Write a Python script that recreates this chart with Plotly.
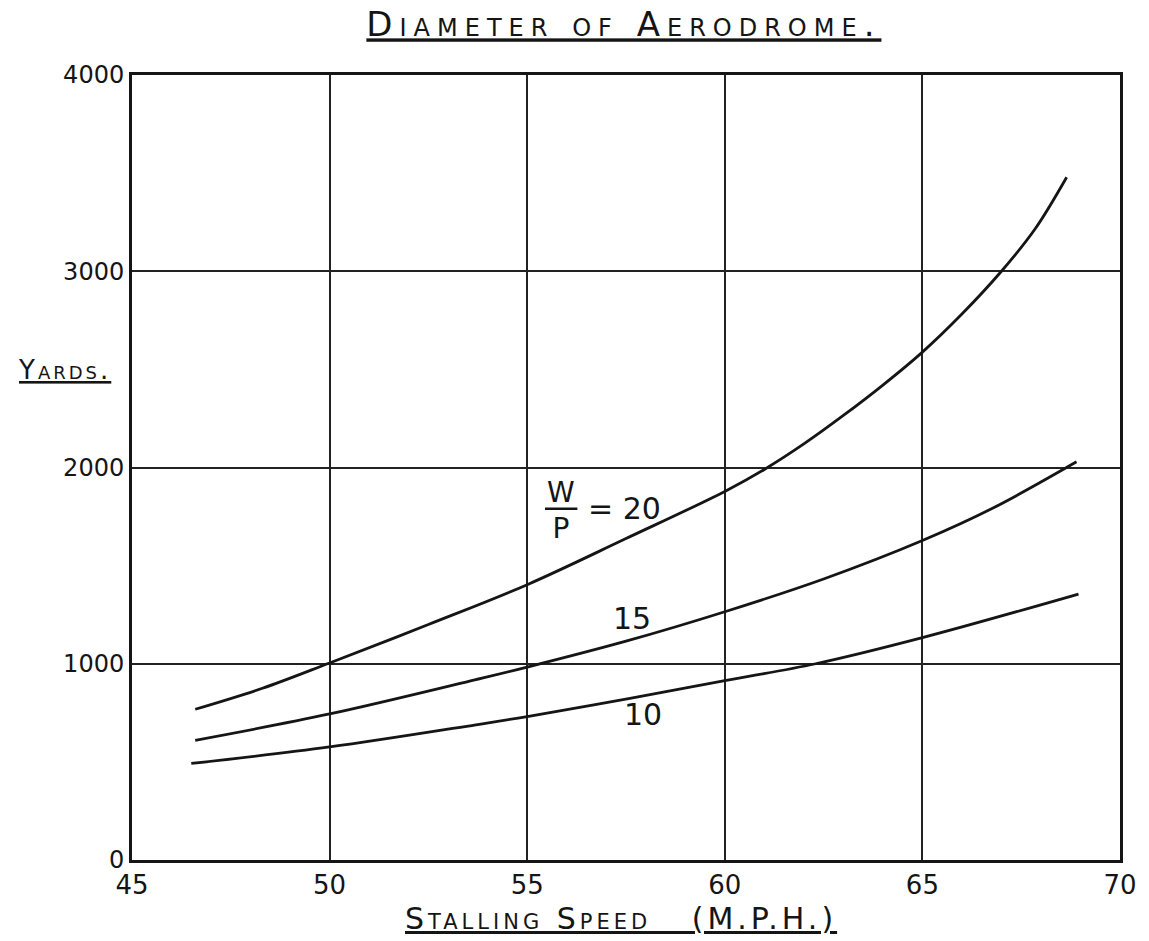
import plotly.graph_objects as go

# Stalling speed (M.P.H.) and aerodrome diameter (yards) for each W/P ratio
speed_20 = [46.6, 48.3, 50.0, 52.5, 55.0, 57.5, 60.0, 61.0, 62.0, 63.0, 64.0, 65.0, 66.0, 67.0, 67.85, 68.65]
yards_20 = [768, 875, 1004, 1200, 1403, 1638, 1878, 1990, 2120, 2265, 2420, 2588, 2782, 3000, 3215, 3479]

speed_15 = [46.6, 50.0, 53.7, 55.0, 57.5, 60.0, 62.5, 65.0, 66.8, 68.9]
yards_15 = [610, 744, 919, 983, 1115, 1265, 1432, 1628, 1795, 2029]

speed_10 = [46.5, 50.0, 53.7, 55.0, 57.6, 60.0, 62.3, 65.0, 68.95]
yards_10 = [492, 576, 689, 731, 824, 914, 1000, 1133, 1355]

x_ticks = [45, 50, 55, 60, 65, 70]
y_ticks = [0, 1000, 2000, 3000, 4000]

FONT = "DejaVu Sans"
INK = "#151515"

fig = go.Figure()
for xs, ys, name in [(speed_20, yards_20, "W/P = 20"),
                     (speed_15, yards_15, "W/P = 15"),
                     (speed_10, yards_10, "W/P = 10")]:
    fig.add_trace(go.Scatter(x=xs, y=ys, mode="lines", name=name,
                             line=dict(color=INK, width=2.8, shape="spline", smoothing=1.0),
                             showlegend=False))

fig.update_layout(
    width=1149, height=941,
    paper_bgcolor="white", plot_bgcolor="white",
    margin=dict(l=132, r=25, t=75, b=81),
    title=dict(text='<span style="letter-spacing:7px">Diameter of Aerodrome.</span>',
               x=0.543, xanchor="center", y=0.974, yanchor="middle",
               font=dict(family=FONT, size=34, color=INK, variant="small-caps",
                         lineposition="under")),
    font=dict(family=FONT, color=INK),
)
fig.update_xaxes(range=[45, 70], tickvals=x_ticks, ticktext=[str(v) for v in x_ticks],
                 showgrid=True, gridcolor="#222222", gridwidth=1.5,
                 showline=True, linecolor=INK, linewidth=3, mirror=True,
                 ticks="", ticklabelstandoff=0,
                 tickfont=dict(family=FONT, size=26, color=INK),
                 zeroline=False)
fig.update_yaxes(range=[0, 4000], tickvals=y_ticks, ticktext=[str(v) for v in y_ticks],
                 showgrid=True, gridcolor="#222222", gridwidth=1.5,
                 showline=True, linecolor=INK, linewidth=3, mirror=True,
                 ticks="", ticklabelstandoff=0,
                 tickfont=dict(family=FONT, size=24, color=INK),
                 zeroline=False)

# Axis titles
fig.add_annotation(text='<span style="letter-spacing:4px">Stalling Speed   (M.P.H.)</span>',
                   xref="paper", yref="paper",
                   x=0.495, y=-0.0745, xanchor="center", yanchor="middle", showarrow=False,
                   font=dict(family=FONT, size=30, color=INK, variant="small-caps",
                             lineposition="under"))
fig.add_annotation(text='<span style="letter-spacing:3px">Yards.</span>',
                   xref="paper", yref="paper",
                   x=-0.019, y=0.624, xanchor="right", yanchor="middle", showarrow=False,
                   font=dict(family=FONT, size=26, color=INK, variant="small-caps",
                             lineposition="under"))

# Curve labels
fig.add_annotation(text="W<br>P", x=55.85, y=1783, xanchor="center", yanchor="middle",
                   showarrow=False, font=dict(family=FONT, size=28, color=INK))
fig.add_shape(type="line", x0=55.45, x1=56.27, y0=1790, y1=1790,
              line=dict(color=INK, width=2.5))
fig.add_annotation(text="= 20", x=56.5, y=1790, xanchor="left", yanchor="middle",
                   showarrow=False, font=dict(family=FONT, size=30, color=INK))
fig.add_annotation(text="15", x=57.66, y=1233, xanchor="center", yanchor="middle",
                   showarrow=False, font=dict(family=FONT, size=30, color=INK))
fig.add_annotation(text="10", x=57.93, y=739, xanchor="center", yanchor="middle",
                   showarrow=False, font=dict(family=FONT, size=30, color=INK))

# Let the 1149x941 figure fill the page window exactly (no default 8px body margin)
fig.write_html("out.html", config={"displayModeBar": False},
               post_script="document.body.style.margin='0';")
